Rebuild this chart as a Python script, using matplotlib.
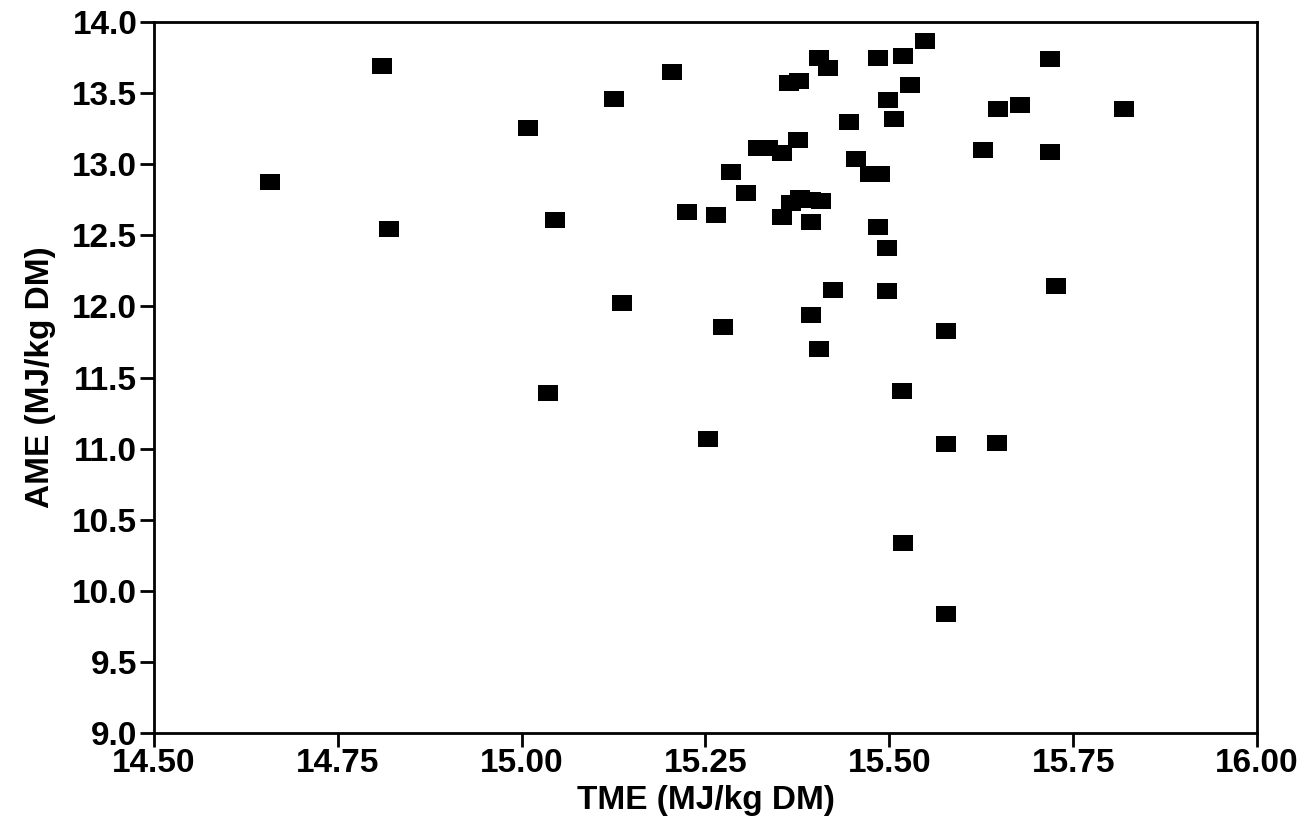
import matplotlib
matplotlib.use("Agg")
import matplotlib.pyplot as plt

plt.rcParams['font.family'] = ['Liberation Sans', 'DejaVu Sans']
plt.rcParams['font.weight'] = 'bold'

# TME / AME 数据 (MJ/kg DM)
tme = [14.658, 14.810, 14.819, 15.008, 15.046, 15.036, 15.126, 15.136, 15.205, 15.225,
       15.254, 15.264, 15.274, 15.285, 15.305, 15.321, 15.335, 15.354, 15.354, 15.364,
       15.366, 15.376, 15.377, 15.378, 15.394, 15.394, 15.394, 15.405, 15.405, 15.407,
       15.416, 15.424, 15.445, 15.455, 15.474, 15.485, 15.485, 15.487, 15.497, 15.497,
       15.498, 15.507, 15.517, 15.518, 15.518, 15.528, 15.549, 15.577, 15.577, 15.577,
       15.628, 15.647, 15.648, 15.678, 15.718, 15.718, 15.727, 15.819]
ame = [12.877, 13.691, 12.546, 13.257, 12.608, 11.389, 13.456, 12.022, 13.648, 12.664,
       11.070, 12.645, 11.855, 12.945, 12.795, 13.112, 13.112, 13.081, 12.631, 13.569,
       12.729, 13.168, 13.585, 12.760, 12.748, 12.594, 11.937, 13.745, 11.703, 12.743,
       13.674, 12.118, 13.297, 13.034, 12.933, 13.745, 12.560, 12.933, 12.411, 12.108,
       13.454, 13.316, 11.403, 13.763, 10.338, 13.555, 13.868, 11.825, 11.032, 9.837,
       13.098, 11.041, 13.386, 13.416, 13.738, 13.086, 12.146, 13.388]

x_ticks = [14.50, 14.75, 15.00, 15.25, 15.50, 15.75, 16.00]
x_labels = ["14.50", "14.75", "15.00", "15.25", "15.50", "15.75", "16.00"]
y_ticks = [9.0, 9.5, 10.0, 10.5, 11.0, 11.5, 12.0, 12.5, 13.0, 13.5, 14.0]
y_labels = ["9.0", "9.5", "10.0", "10.5", "11.0", "11.5", "12.0", "12.5", "13.0", "13.5", "14.0"]

fig = plt.figure(figsize=(13.08, 8.33), dpi=100)
ax = fig.add_axes([0.1177, 0.12, 0.8433, 0.8536])

# 长方形标记
rect = [(-1, -0.8), (1, -0.8), (1, 0.8), (-1, 0.8), (-1, -0.8)]
ax.plot(tme, ame, linestyle='none', marker=rect, markersize=15,
        color='black', markeredgewidth=0)

ax.set_xlim(14.5, 16.0)
ax.set_ylim(9.0, 14.0)
ax.set_xticks(x_ticks)
ax.set_xticklabels(x_labels)
ax.set_yticks(y_ticks)
ax.set_yticklabels(y_labels)

for s in ax.spines.values():
    s.set_linewidth(2)
ax.tick_params(axis='both', direction='out', length=10, width=2,
               labelsize=24, top=False, right=False)
ax.tick_params(axis='x', pad=1)
ax.tick_params(axis='y', pad=2)

ax.set_xlabel("TME (MJ/kg DM)", fontsize=24, fontweight='bold', labelpad=4)
ax.set_ylabel("AME (MJ/kg DM)", fontsize=24, fontweight='bold', labelpad=12)

fig.savefig("out.png", dpi=100)
